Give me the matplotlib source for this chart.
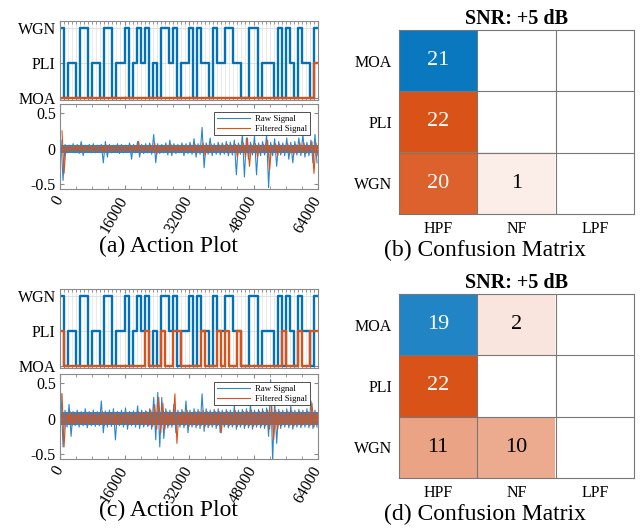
import numpy as np
import matplotlib
matplotlib.use('Agg')
import matplotlib.pyplot as plt

plt.rcParams['font.family'] = ['Liberation Serif', 'DejaVu Serif']

noise_labels = ['MOA', 'PLI', 'WGN']
filter_labels = ['HPF', 'NF', 'LPF']
x_ticks = [0, 16000, 32000, 48000, 64000]

# noise type per 1000-sample segment (0=MOA, 1=PLI, 2=WGN)
noise_seq = [2, 0, 1, 1, 0, 2, 2, 0, 1, 1, 0, 2, 2, 0, 1, 1, 2, 0, 1, 2,
             1, 2, 0, 1, 0, 2, 2, 1, 2, 0, 1, 1, 2, 0, 2, 1, 1, 0, 2, 1,
             1, 2, 2, 1, 1, 0, 0, 2, 2, 0, 1, 1, 1, 0, 2, 0, 2, 1, 0, 2,
             1, 1, 0, 2]
action_a = [0] * 63 + [1]
action_c = [1, 0, 0, 0, 0, 0, 0, 0, 0, 0, 0, 0, 0, 0, 0, 0, 0, 0, 0, 0,
            0, 1, 0, 0, 0, 1, 0, 0, 1, 1, 0, 0, 0, 0, 0, 1, 0, 0, 0, 1,
            0, 1, 0, 0, 1, 0, 0, 0, 0, 0, 0, 0, 0, 0, 0, 1, 0, 0, 0, 1,
            0, 0, 1, 1]

# typical half-width of the dense noise band
raw_a_band = 0.055
filt_a_band = 0.04
raw_c_band = 0.09
filt_c_band = 0.07

# signal max / min per 1000-sample segment
raw_a_hi = [0.12, 0.06, 0.05, 0.07, 0.06, 0.10, 0.05, 0.06, 0.07, 0.05,
            0.06, 0.10, 0.06, 0.05, 0.07, 0.06, 0.05, 0.08, 0.06, 0.10,
            0.06, 0.07, 0.08, 0.20, 0.07, 0.06, 0.08, 0.12, 0.07, 0.06,
            0.08, 0.07, 0.09, 0.14, 0.07, 0.30, 0.08, 0.15, 0.07, 0.09,
            0.08, 0.10, 0.09, 0.12, 0.08, 0.20, 0.15, 0.09, 0.18, 0.08,
            0.10, 0.20, 0.09, 0.14, 0.10, 0.08, 0.15, 0.09, 0.10, 0.15,
            0.20, 0.09, 0.12, 0.20]
raw_a_lo = [-0.45, -0.06, -0.05, -0.06, -0.07, -0.10, -0.05, -0.06, -0.06, -0.05,
            -0.20, -0.12, -0.06, -0.05, -0.07, -0.06, -0.05, -0.15, -0.06, -0.12,
            -0.07, -0.06, -0.08, -0.20, -0.07, -0.06, -0.09, -0.10, -0.07, -0.06,
            -0.10, -0.07, -0.08, -0.12, -0.08, -0.27, -0.08, -0.10, -0.08, -0.09,
            -0.08, -0.10, -0.09, -0.37, -0.08, -0.40, -0.15, -0.09, -0.37, -0.10,
            -0.09, -0.55, -0.10, -0.25, -0.09, -0.10, -0.15, -0.20, -0.09, -0.10,
            -0.12, -0.10, -0.20, -0.20]
filt_a_hi = [0.25, 0.04, 0.03, 0.04, 0.04, 0.05, 0.03, 0.04, 0.04, 0.03,
             0.04, 0.05, 0.04, 0.03, 0.04, 0.04, 0.03, 0.05, 0.04, 0.10,
             0.04, 0.04, 0.05, 0.08, 0.04, 0.04, 0.05, 0.06, 0.04, 0.04,
             0.05, 0.04, 0.05, 0.06, 0.04, 0.08, 0.05, 0.06, 0.04, 0.05,
             0.05, 0.06, 0.05, 0.06, 0.05, 0.08, 0.15, 0.05, 0.07, 0.05,
             0.06, 0.12, 0.05, 0.07, 0.06, 0.05, 0.07, 0.05, 0.06, 0.08,
             0.08, 0.05, 0.10, 0.08]
filt_a_lo = [-0.35, -0.04, -0.03, -0.04, -0.04, -0.05, -0.03, -0.04, -0.04, -0.03,
             -0.06, -0.05, -0.04, -0.03, -0.04, -0.04, -0.03, -0.05, -0.04, -0.06,
             -0.04, -0.04, -0.05, -0.08, -0.04, -0.04, -0.05, -0.05, -0.04, -0.04,
             -0.05, -0.04, -0.05, -0.06, -0.04, -0.10, -0.05, -0.05, -0.04, -0.05,
             -0.05, -0.06, -0.05, -0.12, -0.05, -0.12, -0.25, -0.05, -0.12, -0.05,
             -0.06, -0.30, -0.05, -0.10, -0.06, -0.05, -0.07, -0.08, -0.06, -0.06,
             -0.07, -0.05, -0.35, -0.10]

raw_c_hi = [0.35, 0.12, 0.20, 0.10, 0.12, 0.10, 0.14, 0.10, 0.12, 0.10,
            0.25, 0.11, 0.12, 0.14, 0.10, 0.12, 0.15, 0.10, 0.11, 0.18,
            0.12, 0.11, 0.14, 0.30, 0.37, 0.30, 0.14, 0.12, 0.20, 0.12,
            0.13, 0.25, 0.12, 0.14, 0.13, 0.35, 0.14, 0.12, 0.13, 0.14,
            0.12, 0.13, 0.12, 0.18, 0.12, 0.13, 0.14, 0.20, 0.12, 0.13,
            0.14, 0.15, 0.55, 0.25, 0.13, 0.12, 0.14, 0.18, 0.12, 0.13,
            0.12, 0.14, 0.25, 0.12]
raw_c_lo = [-0.40, -0.12, -0.25, -0.10, -0.12, -0.10, -0.13, -0.10, -0.11, -0.10,
            -0.20, -0.12, -0.11, -0.30, -0.10, -0.12, -0.15, -0.10, -0.12, -0.14,
            -0.12, -0.11, -0.15, -0.30, -0.40, -0.28, -0.13, -0.12, -0.20, -0.12,
            -0.13, -0.20, -0.12, -0.13, -0.14, -0.18, -0.13, -0.12, -0.14, -0.20,
            -0.12, -0.13, -0.12, -0.15, -0.12, -0.14, -0.13, -0.15, -0.12, -0.13,
            -0.14, -0.25, -0.60, -0.35, -0.14, -0.12, -0.13, -0.15, -0.12, -0.13,
            -0.12, -0.13, -0.14, -0.12]
filt_c_hi = [0.35, 0.08, 0.10, 0.07, 0.08, 0.07, 0.09, 0.07, 0.08, 0.07,
             0.10, 0.08, 0.08, 0.09, 0.07, 0.08, 0.09, 0.07, 0.08, 0.10,
             0.09, 0.10, 0.12, 0.20, 0.30, 0.22, 0.10, 0.09, 0.35, 0.09,
             0.10, 0.12, 0.09, 0.10, 0.10, 0.12, 0.10, 0.09, 0.10, 0.10,
             0.09, 0.10, 0.09, 0.11, 0.09, 0.10, 0.10, 0.12, 0.09, 0.10,
             0.10, 0.12, 0.20, 0.12, 0.10, 0.09, 0.10, 0.11, 0.09, 0.10,
             0.09, 0.10, 0.22, 0.09]
filt_c_lo = [-0.40, -0.08, -0.10, -0.07, -0.08, -0.07, -0.09, -0.07, -0.08, -0.07,
             -0.10, -0.08, -0.08, -0.10, -0.07, -0.08, -0.09, -0.07, -0.08, -0.09,
             -0.09, -0.10, -0.11, -0.15, -0.20, -0.15, -0.10, -0.09, -0.35, -0.09,
             -0.10, -0.11, -0.09, -0.10, -0.10, -0.11, -0.10, -0.09, -0.10, -0.20,
             -0.09, -0.10, -0.09, -0.11, -0.09, -0.10, -0.10, -0.11, -0.09, -0.10,
             -0.10, -0.15, -0.30, -0.15, -0.10, -0.09, -0.10, -0.11, -0.09, -0.10,
             -0.09, -0.10, -0.12, -0.09]

# confusion matrices: rows = noise (MOA, PLI, WGN), cols = filter (HPF, NF, LPF)
cm_b = [[21, 0, 0],
        [22, 0, 0],
        [20, 1, 0]]
cm_d = [[19, 2, 0],
        [22, 0, 0],
        [11, 10, 0]]

BLUE = '#0072BD'
ORANGE = '#D95319'
RAW_BLUE = '#2a86cf'
GRAY = '#8a8a8a'
W, H = 640, 531


def box(x0, y0, x1, y1):
    return [x0 / W, 1 - y1 / H, (x1 - x0) / W, (y1 - y0) / H]


def style_axes(ax):
    for s in ax.spines.values():
        s.set_color(GRAY)
        s.set_linewidth(0.8)
    ax.tick_params(which='both', direction='in', top=True, right=True,
                   color=GRAY, length=3, labelsize=11.5, pad=3)
    ax.tick_params(which='minor', length=2)


def action_plot(fig, top, seq, act):
    ax = fig.add_axes(box(60, top, 318, top + 79))
    x = np.arange(len(seq) + 1) * 1000
    ax.step(x, list(seq) + [seq[-1]], where='post', color=BLUE, lw=1.7)
    ax.step(x, list(act) + [act[-1]], where='post', color=ORANGE, lw=1.7)
    ax.set_xlim(0, 64000)
    ax.set_ylim(-0.05, 2.19)
    ax.set_yticks([0, 1, 2])
    ax.set_yticklabels(noise_labels)
    ax.set_xticks(x_ticks)
    ax.set_xticks(np.arange(0, 64001, 1000), minor=True)
    ax.set_xticklabels([])
    ax.grid(True, which='minor', axis='x', color='#e6e6e6', lw=0.6)
    ax.grid(True, which='major', axis='both', color='#dddddd', lw=0.6)
    ax.set_axisbelow(True)
    style_axes(ax)
    return ax


def signal_plot(fig, top, raw_band, raw_hi, raw_lo, filt_band, filt_hi, filt_lo):
    ax = fig.add_axes(box(60, top, 318, top + 85))
    xs = np.arange(len(raw_hi) * 2) * 500 + 250
    raw = np.column_stack((raw_hi, raw_lo)).ravel()
    filt = np.column_stack((filt_hi, filt_lo)).ravel()
    ax.fill_between([0, 64000], -raw_band, raw_band, color=RAW_BLUE, lw=0)
    ax.plot(xs, raw, color=RAW_BLUE, lw=0.8, label='Raw Signal')
    ax.fill_between([0, 64000], -filt_band, filt_band, color=ORANGE, lw=0)
    ax.plot(xs + 250, filt, color=ORANGE, lw=0.8, label='Filtered Signal')
    ax.set_xlim(0, 64000)
    ax.set_ylim(-0.57, 0.63)
    ax.set_yticks([-0.5, 0, 0.5])
    ax.set_yticklabels(['-0.5', '0', '0.5'])
    ax.set_xticks(x_ticks)
    ax.set_xticks(np.arange(0, 64001, 4000), minor=True)
    ax.set_xticklabels([str(t) for t in x_ticks], rotation=60,
                       ha='right', va='center', rotation_mode='anchor')
    style_axes(ax)
    ax.tick_params(axis='x', pad=6)
    leg = ax.legend(loc='upper right', bbox_to_anchor=(0.969, 0.906),
                    borderaxespad=0, fontsize=6.3, fancybox=False,
                    handlelength=3.8, borderpad=0.3, labelspacing=0.2,
                    handletextpad=0.6, framealpha=1)
    leg.get_frame().set_edgecolor('#333333')
    leg.get_frame().set_linewidth(0.6)
    return ax


def shade(v, vmax, base):
    c = np.array(matplotlib.colors.to_rgb(base))
    if v == 0:
        return np.ones(3), 0.0
    f = 0.06 + 0.94 * v / vmax
    return (1 - f) + f * c, f


def conf_plot(fig, top, cm):
    ax = fig.add_axes(box(399, top, 634, top + 184))
    cm = np.array(cm)
    vmax = cm.max()
    img = np.ones((3, 3, 3))
    for r in range(3):
        for c in range(3):
            base = BLUE if r == c else ORANGE
            col, f = shade(cm[r, c], vmax, base)
            img[r, c] = col
            if cm[r, c] > 0:
                ax.text(c, r, str(cm[r, c]), ha='center', va='center',
                        fontsize=16, color='white' if f > 0.6 else 'black')
    ax.imshow(img, extent=(-0.5, 2.5, 2.5, -0.5), aspect='auto')
    for p in (0.5, 1.5):
        ax.axhline(p, color='#777777', lw=0.8)
        ax.axvline(p, color='#777777', lw=0.8)
    for s in ax.spines.values():
        s.set_color('#777777')
        s.set_linewidth(0.8)
    ax.set_xticks(range(3))
    ax.set_xticklabels(filter_labels)
    ax.set_yticks(range(3))
    ax.set_yticklabels(noise_labels)
    ax.tick_params(length=0, labelsize=11.5, pad=5)
    ax.set_title('SNR: +5 dB', fontweight='bold', fontsize=14.5, pad=4)
    return ax


fig = plt.figure(figsize=(6.4, 5.31), dpi=100)

action_plot(fig, 21, noise_seq, action_a)
signal_plot(fig, 104, raw_a_band, raw_a_hi, raw_a_lo, filt_a_band, filt_a_hi, filt_a_lo)
conf_plot(fig, 30, cm_b)

action_plot(fig, 289, noise_seq, action_c)
signal_plot(fig, 374, raw_c_band, raw_c_hi, raw_c_lo, filt_c_band, filt_c_hi, filt_c_lo)
conf_plot(fig, 294, cm_d)

fig.text(168 / W, 1 - 246 / H, '(a) Action Plot', ha='center', va='center', fontsize=17)
fig.text(485 / W, 1 - 250 / H, '(b) Confusion Matrix', ha='center', va='center', fontsize=17)
fig.text(168 / W, 1 - 510 / H, '(c) Action Plot', ha='center', va='center', fontsize=17)
fig.text(485 / W, 1 - 514 / H, '(d) Confusion Matrix', ha='center', va='center', fontsize=17)

fig.savefig('out.png', dpi=100)
